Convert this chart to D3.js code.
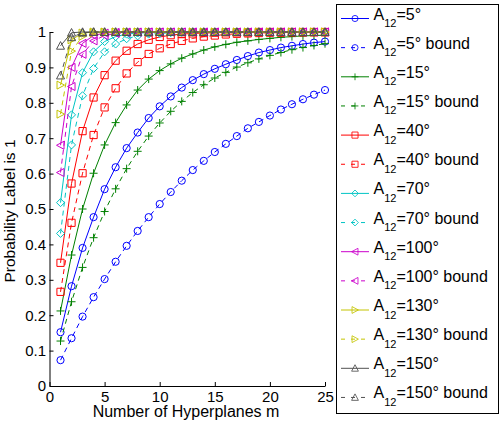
<!DOCTYPE html>
<html>
<head>
<meta charset="utf-8">
<script src="https://cdn.jsdelivr.net/npm/d3@7"></script>
<style>
	body { margin: 0; background: #fff; }
	svg { display: block; font-family: "Liberation Sans", Arial, sans-serif; }
</style>
</head>
<body>
<div id="chart"></div>
<script>
// hyperplane counts m
var hyperplanes = [1, 2, 3, 4, 5, 6, 7, 8, 9, 10, 11, 12, 13, 14, 15, 16, 17, 18, 19, 20, 21, 22, 23, 24, 25]

// probability values, one array per series
var a5 = [0.152, 0.282, 0.390, 0.477, 0.556, 0.618, 0.672, 0.716, 0.757, 0.790, 0.818, 0.843, 0.864, 0.881, 0.896, 0.909, 0.921, 0.932, 0.942, 0.949, 0.956, 0.961, 0.966, 0.970, 0.973]
var a5_bound = [0.073, 0.135, 0.196, 0.251, 0.302, 0.351, 0.396, 0.438, 0.477, 0.514, 0.548, 0.580, 0.610, 0.636, 0.661, 0.684, 0.706, 0.728, 0.746, 0.764, 0.781, 0.796, 0.810, 0.823, 0.836]
var a15 = [0.212, 0.370, 0.500, 0.601, 0.681, 0.744, 0.794, 0.836, 0.867, 0.891, 0.910, 0.926, 0.938, 0.949, 0.958, 0.965, 0.971, 0.975, 0.979, 0.982, 0.985, 0.987, 0.989, 0.990, 0.991]
var a15_bound = [0.127, 0.238, 0.335, 0.419, 0.493, 0.557, 0.614, 0.663, 0.706, 0.743, 0.776, 0.804, 0.829, 0.851, 0.870, 0.886, 0.901, 0.913, 0.924, 0.934, 0.942, 0.950, 0.956, 0.962, 0.967]
var a40 = [0.348, 0.572, 0.720, 0.815, 0.878, 0.919, 0.947, 0.966, 0.978, 0.986, 0.991, 0.994, 0.996, 0.997, 0.998, 0.999, 0.999, 0.999, 1, 1, 1, 1, 1, 1, 1]
var a40_bound = [0.266, 0.461, 0.601, 0.709, 0.787, 0.841, 0.883, 0.915, 0.938, 0.954, 0.966, 0.975, 0.982, 0.987, 0.990, 0.993, 0.995, 0.996, 0.997, 0.998, 0.998, 0.999, 0.999, 0.999, 0.999]
var a70 = [0.518, 0.766, 0.885, 0.944, 0.973, 0.987, 0.994, 0.997, 0.998, 0.999, 1, 1, 1, 1, 1, 1, 1, 1, 1, 1, 1, 1, 1, 1, 1]
var a70_bound = [0.431, 0.681, 0.820, 0.897, 0.944, 0.966, 0.981, 0.989, 0.994, 0.996, 0.998, 0.999, 0.999, 1, 1, 1, 1, 1, 1, 1, 1, 1, 1, 1, 1]
var a100 = [0.680, 0.900, 0.968, 0.990, 0.997, 0.999, 1, 1, 1, 1, 1, 1, 1, 1, 1, 1, 1, 1, 1, 1, 1, 1, 1, 1, 1]
var a100_bound = [0.603, 0.846, 0.937, 0.975, 0.990, 0.996, 0.998, 0.999, 1, 1, 1, 1, 1, 1, 1, 1, 1, 1, 1, 1, 1, 1, 1, 1, 1]
var a130 = [0.850, 0.978, 0.997, 1, 1, 1, 1, 1, 1, 1, 1, 1, 1, 1, 1, 1, 1, 1, 1, 1, 1, 1, 1, 1, 1]
var a130_bound = [0.768, 0.946, 0.988, 0.997, 0.999, 1, 1, 1, 1, 1, 1, 1, 1, 1, 1, 1, 1, 1, 1, 1, 1, 1, 1, 1, 1]
var a150 = [0.961, 0.998, 1, 1, 1, 1, 1, 1, 1, 1, 1, 1, 1, 1, 1, 1, 1, 1, 1, 1, 1, 1, 1, 1, 1]
var a150_bound = [0.877, 0.985, 0.998, 1, 1, 1, 1, 1, 1, 1, 1, 1, 1, 1, 1, 1, 1, 1, 1, 1, 1, 1, 1, 1, 1]

var x_ticks = [0, 5, 10, 15, 20, 25]
var y_ticks = [0, 0.1, 0.2, 0.3, 0.4, 0.5, 0.6, 0.7, 0.8, 0.9, 1]

var series = [
	{angle: '5', bound: false, values: a5, color: '#0000ff', marker: 'circle'},
	{angle: '5', bound: true, values: a5_bound, color: '#0000ff', marker: 'circle'},
	{angle: '15', bound: false, values: a15, color: '#008000', marker: 'plus'},
	{angle: '15', bound: true, values: a15_bound, color: '#008000', marker: 'plus'},
	{angle: '40', bound: false, values: a40, color: '#ff0000', marker: 'square'},
	{angle: '40', bound: true, values: a40_bound, color: '#ff0000', marker: 'square'},
	{angle: '70', bound: false, values: a70, color: '#00c4c4', marker: 'diamond'},
	{angle: '70', bound: true, values: a70_bound, color: '#00c4c4', marker: 'diamond'},
	{angle: '100', bound: false, values: a100, color: '#cc00cc', marker: 'left'},
	{angle: '100', bound: true, values: a100_bound, color: '#cc00cc', marker: 'left'},
	{angle: '130', bound: false, values: a130, color: '#c4c400', marker: 'right'},
	{angle: '130', bound: true, values: a130_bound, color: '#c4c400', marker: 'right'},
	{angle: '150', bound: false, values: a150, color: '#505050', marker: 'up'},
	{angle: '150', bound: true, values: a150_bound, color: '#505050', marker: 'up'}
]

var width = 504,
	height = 424,
	plot = {left: 49.5, right: 325, top: 32, bottom: 386}

var x = d3.scaleLinear().domain([0, 25]).range([plot.left, plot.right])
var y = d3.scaleLinear().domain([0, 1]).range([plot.bottom, plot.top])

var markers = {
	circle: 'M3.6,0A3.6,3.6 0 1,1 -3.6,0A3.6,3.6 0 1,1 3.6,0Z',
	plus: 'M-4,0H4M0,-4V4',
	square: 'M-3.6,-3.6H3.6V3.6H-3.6Z',
	diamond: 'M0,-4L4,0L0,4L-4,0Z',
	left: 'M-4,0L3.5,-4L3.5,4Z',
	right: 'M4,0L-3.5,-4L-3.5,4Z',
	up: 'M0,-4.2L4,3.4L-4,3.4Z'
}

var svg = d3.select('#chart').append('svg')
	.attr('width', width)
	.attr('height', height)

var line = d3.line()
	.x(function(d, i) { return x(hyperplanes[i]) })
	.y(function(d) { return y(d) })

var groups = svg.append('g').selectAll('g')
	.data(series)
	.join('g')

groups.append('path')
	.attr('d', function(d) { return line(d.values) })
	.attr('fill', 'none')
	.attr('stroke', function(d) { return d.color })
	.attr('stroke-width', 1)
	.attr('stroke-dasharray', function(d) { return d.bound ? '5,4' : null })

groups.each(function(s) {
	d3.select(this).selectAll('path.mark')
		.data(s.values)
		.join('path')
		.attr('class', 'mark')
		.attr('d', markers[s.marker])
		.attr('transform', function(d, i) { return 'translate(' + x(hyperplanes[i]) + ',' + y(d) + ')' })
		.attr('fill', 'none')
		.attr('stroke', s.color)
		.attr('stroke-width', 1)
})

// axes, ticks pointing inward like the original
svg.append('g')
	.attr('transform', 'translate(0,' + plot.bottom + ')')
	.call(d3.axisBottom(x).tickValues(x_ticks).tickSizeInner(-4).tickSizeOuter(0).tickPadding(5).tickFormat(d3.format('d')))

svg.append('g')
	.attr('transform', 'translate(' + plot.left + ',0)')
	.call(d3.axisLeft(y).tickValues(y_ticks).tickSizeInner(-4).tickSizeOuter(0).tickPadding(3.5).tickFormat(function(d) { return d === 0 || d === 1 ? d : d.toFixed(1) }))

svg.selectAll('.domain, .tick line').attr('stroke', '#000')
svg.selectAll('.tick text')
	.attr('fill', '#000')
	.style('font-size', '15px')
	.style('font-family', '"Liberation Sans", Arial, sans-serif')

svg.append('text')
	.attr('x', 186)
	.attr('y', 417)
	.attr('text-anchor', 'middle')
	.style('font-size', '16px')
	.text('Number of Hyperplanes m')

svg.append('text')
	.attr('transform', 'translate(15,211) rotate(-90)')
	.attr('text-anchor', 'middle')
	.style('font-size', '15.5px')
	.text('Probability Label is 1')

// legend
var legend = svg.append('g')

legend.append('rect')
	.attr('x', 336.5)
	.attr('y', 4.5)
	.attr('width', 162)
	.attr('height', 409)
	.attr('fill', '#fff')
	.attr('stroke', '#000')
	.attr('stroke-width', 1)

var entry = legend.selectAll('g.entry')
	.data(series)
	.join('g')
	.attr('class', 'entry')
	.attr('transform', function(d, i) { return 'translate(0,' + (18.5 + i * 29.15) + ')' })

entry.append('path')
	.attr('d', 'M341,0H369')
	.attr('stroke', function(d) { return d.color })
	.attr('stroke-width', 1)
	.attr('stroke-dasharray', function(d) { return d.bound ? '4,6' : null })

entry.append('path')
	.attr('d', function(d) { return markers[d.marker] })
	.attr('transform', 'translate(355,0) scale(0.85)')
	.attr('fill', 'none')
	.attr('stroke', function(d) { return d.color })

var label = entry.append('text')
	.attr('x', 373.5)
	.attr('y', 1)
	.style('font-size', '16px')

label.append('tspan').text('A')
label.append('tspan')
	.attr('dy', 7.5)
	.style('font-size', '11px')
	.text('12')
label.append('tspan')
	.attr('dy', -7.5)
	.text(function(d) { return '=' + d.angle + '\u00b0' + (d.bound ? ' bound' : '') })
</script>
</body>
</html>
